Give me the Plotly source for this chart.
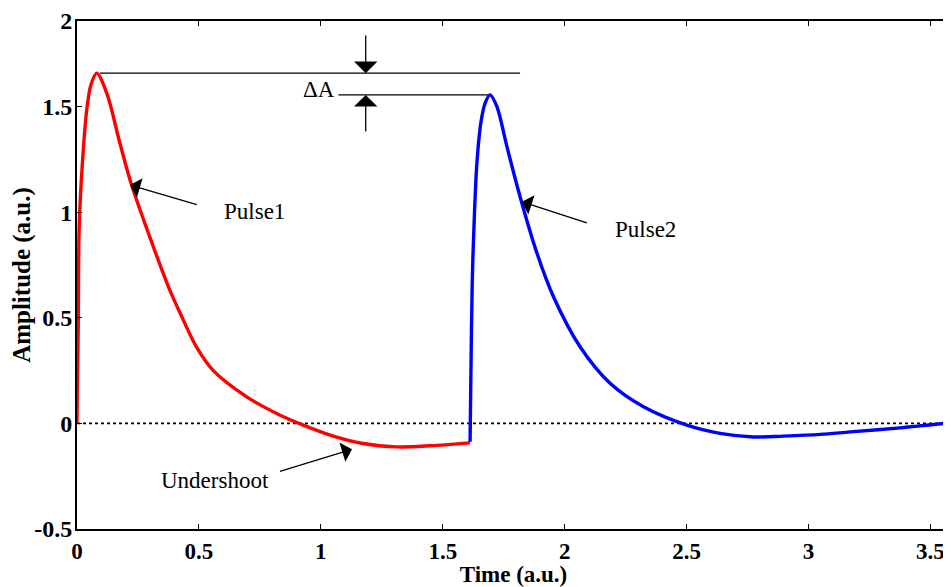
import plotly.graph_objects as go

# ---- data ----
pulse1_t = [0.000, 0.001, 0.005, 0.009, 0.023, 0.040, 0.057, 0.081, 0.122, 0.176,
            0.224, 0.313, 0.381, 0.422, 0.491, 0.559, 0.696, 0.833, 0.928, 1.038,
            1.173, 1.311, 1.448, 1.612]
pulse1_a = [0.000, 0.144, 0.456, 0.930, 1.248, 1.485, 1.603, 1.659, 1.564, 1.327,
            1.129, 0.837, 0.630, 0.525, 0.360, 0.250, 0.126, 0.039, -0.008, -0.055,
            -0.095, -0.111, -0.106, -0.092]

pulse2_t = [1.612, 1.615, 1.621, 1.630, 1.640, 1.656, 1.674, 1.694, 1.722, 1.763,
            1.817, 1.886, 1.954, 2.063, 2.186, 2.323, 2.501, 2.637, 2.774, 2.896,
            3.048, 3.171, 3.376, 3.581]
pulse2_a = [-0.087, 0.205, 0.679, 0.997, 1.234, 1.423, 1.518, 1.556, 1.500, 1.311,
            1.074, 0.807, 0.600, 0.363, 0.190, 0.079, -0.008, -0.047, -0.064, -0.060,
            -0.052, -0.040, -0.021, 0.003]

peak1 = 1.659
peak2 = 1.556

x_tickvals = [0, 0.5, 1, 1.5, 2, 2.5, 3, 3.5]
x_ticktext = ["0", "0.5", "1", "1.5", "2", "2.5", "3", "3.5"]
y_tickvals = [-0.5, 0, 0.5, 1, 1.5, 1.906]
y_ticktext = ["-0.5", "0", "0.5", "1", "1.5", "2"]

X_MAX = 3.58
Y_MIN, Y_MAX = -0.5, 1.906

FONT = "Liberation Serif, Times New Roman, serif"

fig = go.Figure()

# zero reference line (dotted)
fig.add_trace(go.Scatter(x=[0, X_MAX], y=[0, 0], mode="lines",
                         line=dict(color="black", width=1.8, dash="3px,3px"),
                         hoverinfo="skip", showlegend=False))

# Delta-A reference lines
fig.add_trace(go.Scatter(x=[0.094, 1.817], y=[peak1, peak1], mode="lines",
                         line=dict(color="black", width=1.2),
                         hoverinfo="skip", showlegend=False))
fig.add_trace(go.Scatter(x=[1.072, 1.694], y=[peak2, peak2], mode="lines",
                         line=dict(color="black", width=1.2),
                         hoverinfo="skip", showlegend=False))

fig.add_trace(go.Scatter(x=pulse1_t, y=pulse1_a, mode="lines", name="Pulse1",
                         line=dict(color="#ff0000", width=3.4, shape="spline", smoothing=0.9),
                         showlegend=False))
fig.add_trace(go.Scatter(x=pulse2_t, y=pulse2_a, mode="lines", name="Pulse2",
                         line=dict(color="#0000ff", width=3.4, shape="spline", smoothing=0.9),
                         showlegend=False))

def arrow(x_tip, y_tip, x_tail, y_tail, size=2.6):
    fig.add_annotation(x=x_tip, y=y_tip, ax=x_tail, ay=y_tail,
                       xref="x", yref="y", axref="x", ayref="y",
                       text="", showarrow=True, arrowhead=1, arrowsize=size,
                       arrowwidth=1.3, arrowcolor="black", standoff=0, startstandoff=0)

def label(x, y, txt):
    fig.add_annotation(x=x, y=y, xref="x", yref="y", text=txt, showarrow=False,
                       font=dict(family=FONT, size=23, color="black"))

arrow(0.2174, 1.129, 0.4975, 1.0346)
label(0.729, 1.003, "Pulse1")
arrow(1.824, 1.050, 2.097, 0.948)
label(2.333, 0.919, "Pulse2")
arrow(1.128, -0.122, 0.826, -0.229)
label(0.566, -0.268, "Undershoot")
arrow(1.184, peak1, 1.184, 1.845, size=3.0)
arrow(1.184, peak2, 1.184, 1.376, size=3.0)
label(0.993, 1.580, "ΔA")

axis_common = dict(showline=True, linecolor="black", linewidth=2, mirror="ticks",
                   ticks="inside", ticklen=5, tickwidth=1, tickcolor="black",
                   showgrid=False, zeroline=False, automargin=False)

fig.update_xaxes(range=[0, X_MAX], tickvals=x_tickvals, ticktext=x_ticktext,
                 tickfont=dict(family=FONT, size=23, color="black", weight="bold"),
                 title=dict(text="Time (a.u.)", standoff=2,
                            font=dict(family=FONT, size=23, color="black", weight="bold")),
                 **axis_common)
fig.update_yaxes(range=[Y_MIN, Y_MAX], tickvals=y_tickvals, ticktext=y_ticktext,
                 ticklabelstandoff=-2,
                 tickfont=dict(family=FONT, size=24, color="black", weight="bold"),
                 title=dict(text="Amplitude (a.u.)", standoff=2,
                            font=dict(family=FONT, size=25, color="black", weight="bold")),
                 **axis_common)

# the page body has an 8px margin, so the figure is shrunk by 8px and offset
fig.update_layout(width=943, height=579,
                  margin=dict(l=69, r=1, t=13, b=58),
                  paper_bgcolor="white", plot_bgcolor="white",
                  font=dict(family=FONT, color="black"))

fig.write_html("out.html")
